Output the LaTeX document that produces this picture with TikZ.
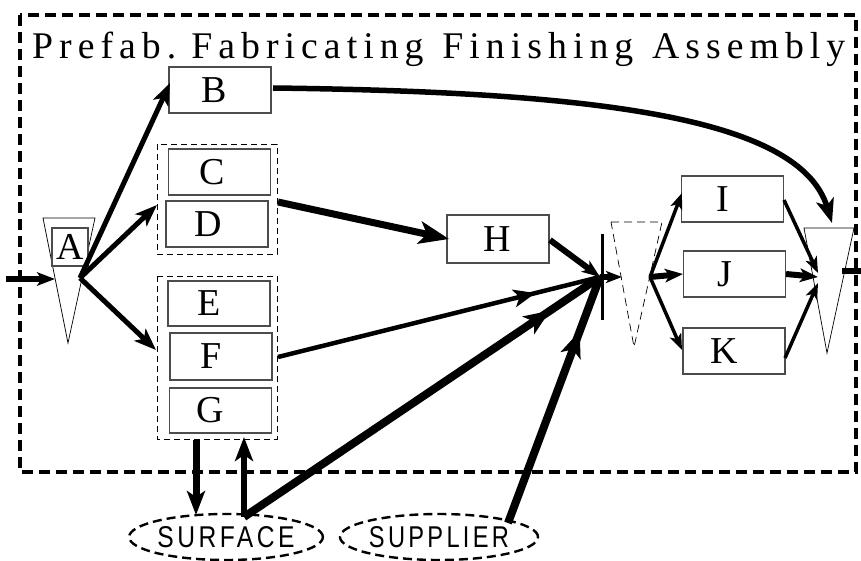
\documentclass[tikz,border=0pt]{standalone}
\usepackage{fontspec}
\setmainfont{Liberation Serif}
\newfontfamily\tagsans{Liberation Sans}
\usetikzlibrary{arrows.meta,decorations.markings,shapes.geometric}

\begin{document}
\begin{tikzpicture}[x=1pt,y=-1pt,
  box/.style={draw=black!70, line width=1.1pt, fill=white, inner sep=0pt,
              minimum width=102pt, minimum height=46pt},
  letter/.style={font=\fontsize{38}{38}\selectfont},
  grp/.style={draw, line width=0.8pt, dash pattern=on 6pt off 4pt},
  tri/.style={draw, line width=0.7pt, fill=white},
  head/.style={-{Stealth[length=#1,width=0.75*#1,inset=0.25*#1]}},
  flow/.style={line width=5pt, head=22pt},
  midhead/.style args={#1 at #2}{postaction={decorate},
    decoration={markings, mark=at position #2 with {\arrow{Stealth[length=#1,width=0.8*#1,inset=0.25*#1]}}}},
  tag/.style={draw, line width=2.4pt, dash pattern=on 9pt off 5pt, ellipse,
              minimum height=46pt, inner sep=0pt},
]
\useasboundingbox (0,0) rectangle (861,561);

% outer boundary and title
\draw[line width=3.5pt, dash pattern=on 11pt off 6pt] (20,15) rectangle (856,472);
\node[anchor=base west, inner sep=0pt] (title) at (32,59)
  {\resizebox{813pt}{26.5pt}{\addfontfeatures{LetterSpace=16}Prefab.\hspace{0.4em}Fabricating\hspace{0.5em}Finishing\hspace{0.5em}Assembly}};

% storage triangles
\draw[tri] (43,218) -- (95,218) -- (68,343) -- cycle;
\draw[tri, dash pattern=on 8pt off 5pt] (611,222) -- (662,222) -- (634,347) -- cycle;
\draw[tri] (804,228) -- (854,228) -- (827,353) -- cycle;

% operation boxes
\node[box, minimum width=36pt, minimum height=38pt, label={[letter]center:A}] (A) at (70,247) {};
\node[box, minimum height=46pt, label={[letter, xshift=-6pt]center:B}] (B) at (220,90) {};
\draw[grp] (157,144) rectangle (277,254);
\node[box, minimum height=46pt, label={[letter, xshift=-7pt]center:C}] (C) at (219.5,172) {};
\node[box, minimum height=46pt, label={[letter, xshift=-9pt]center:D}] (D) at (217,224) {};
\draw[grp] (157,276) rectangle (277,439);
\node[box, minimum height=45pt, label={[letter, xshift=-10pt]center:E}] (E) at (219,303.5) {};
\node[box, minimum height=47pt, label={[letter, xshift=-10pt]center:F}] (F) at (221,356.5) {};
\node[box, minimum height=45pt, label={[letter, xshift=-10pt]center:G}] (G) at (220.5,410.5) {};
\node[box, minimum height=48pt, label={[letter, xshift=-1pt]center:H}] (H) at (498,239) {};
\node[box, minimum height=46pt, label={[letter, xshift=-10pt]center:I}] (I) at (732.5,199) {};
\node[box, minimum height=46pt, label={[letter, xshift=-10pt]center:J}] (J) at (734.5,274) {};
\node[box, minimum height=46pt, label={[letter, xshift=-10pt]center:K}] (K) at (734,351) {};

% outside sources
\node[tag] (surface) at (226,537) [minimum width=173pt]
  {\raisebox{-2pt}{\resizebox{137pt}{21pt}{\tagsans\addfontfeatures{LetterSpace=14}SURFACE}}};
\node[tag] (supplier) at (439,537) [minimum width=188pt]
  {\raisebox{-2pt}{\resizebox{140pt}{21pt}{\tagsans\addfontfeatures{LetterSpace=14}SUPPLIER}}};

% junction points
\coordinate (in)    at (6,279);
\coordinate (Ain)   at (55,279);
\coordinate (Afan)  at (80,278);
\coordinate (Btip)  at (170,83);
\coordinate (CDin)  at (157,205);
\coordinate (EFGin) at (156,350);
\coordinate (Dout)  at (278,202);
\coordinate (Hin)   at (449,239);
\coordinate (Hout)  at (550,240);
\coordinate (join)  at (600,277);
\coordinate (barT)  at (602,234);
\coordinate (barB)  at (602,320);
\coordinate (T2in)  at (622,277);
\coordinate (T2fan) at (650,277);
\coordinate (Iin)   at (682,193);
\coordinate (Kin)   at (682,350);
\coordinate (Iout)  at (784,200);
\coordinate (Kout)  at (785,358);
\coordinate (T3a)   at (818,273);
\coordinate (T3b)   at (818,277);
\coordinate (T3c)   at (818,283);
\coordinate (T3out) at (842,271);
\coordinate (edge)  at (862,271);
\coordinate (T3top) at (832,223);
\coordinate (Bout)  at (273,88);
\coordinate (Fout)  at (278,357);
\coordinate (Gdown) at (196,440);
\coordinate (Sdown) at (196,515);
\coordinate (Sup)   at (244,517);
\coordinate (Gup)   at (244,437);
\coordinate (Pout)  at (508,523);

% raw material in, fan out from A
\draw[line width=6pt, head=18pt] (in) -- (Ain);
\draw[flow] (Afan) -- (Btip);
\draw[flow] (Afan) -- (CDin);
\draw[flow] (Afan) -- (EFGin);

% B straight to final assembly
\draw[line width=5.5pt, head=24pt] (Bout) .. controls (600,92) and (800,118) .. (T3top);

% C/D through H
\draw[line width=7pt, head=30pt] (Dout) -- (Hin);
\draw[line width=6pt, head=18pt] (Hout) -- (join);

% feeders into the junction bar
\draw[line width=4.5pt, midhead=22pt at 0.8] (Fout) -- (join);
\draw[line width=8pt, midhead=26pt at 0.86] (Sup) -- (join);
\draw[line width=8pt, midhead=26pt at 0.78] (Pout) -- (join);
\draw[line width=3pt] (barT) -- (barB);

% G and SURFACE exchange
\draw[line width=7pt, head=24pt] (Gdown) -- (Sdown);
\draw[line width=6pt, head=24pt] (Sup) -- (Gup);

% finishing stage
\draw[line width=6pt, head=16pt] (join) -- (T2in);
\draw[line width=3.5pt, head=16pt] (T2fan) -- (Iin);
\draw[line width=6pt, head=18pt] (T2fan) -- (J.west);
\draw[line width=3.5pt, head=16pt] (T2fan) -- (Kin);
\draw[line width=3.5pt, head=16pt] (Iout) -- (T3a);
\draw[line width=6pt, head=18pt] (J.east) -- (T3b);
\draw[line width=3.5pt, head=16pt] (Kout) -- (T3c);
\draw[line width=6pt] (T3out) -- (edge);
\end{tikzpicture}
\end{document}
